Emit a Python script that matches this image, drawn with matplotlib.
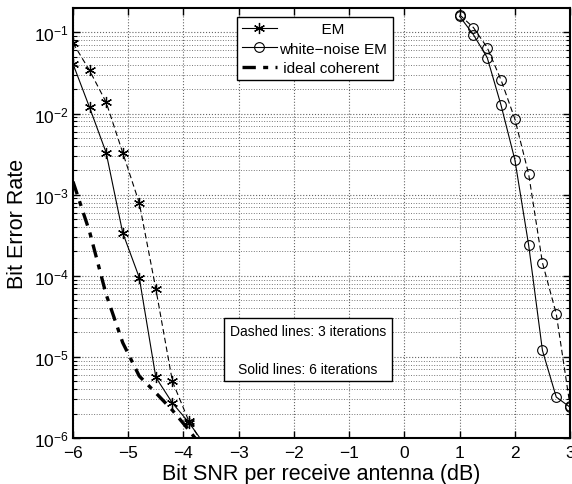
import matplotlib
matplotlib.use("Agg")
import matplotlib.pyplot as plt

plt.rcParams['font.family'] = ['Liberation Sans', 'DejaVu Sans']
plt.rcParams['mathtext.fontset'] = 'custom'
plt.rcParams['mathtext.rm'] = 'Liberation Sans'
plt.rcParams['mathtext.it'] = 'Liberation Sans:italic'

# --- datos ---
snr_izq = [-6.0, -5.7, -5.4, -5.1, -4.8, -4.5, -4.2, -3.9, -3.6]
em_6it = [4.1e-2, 1.19e-2, 3.3e-3, 3.4e-4, 9.5e-5, 5.6e-6, 2.7e-6, 1.55e-6, 8e-7]
em_3it = [7.4e-2, 3.4e-2, 1.38e-2, 3.3e-3, 7.9e-4, 6.9e-5, 5.0e-6, 1.6e-6, 7.5e-7]
ideal = [1.45e-3, 3.5e-4, 5.9e-5, 1.5e-5, 5.8e-6, 3.6e-6, 2.2e-6, 1.25e-6, 6.8e-7]

snr_der = [1.0, 1.25, 1.5, 1.75, 2.0, 2.25, 2.5, 2.75, 3.0]
wn_6it = [0.158, 9.4e-2, 4.9e-2, 1.27e-2, 2.7e-3, 2.4e-4, 1.2e-5, 3.2e-6, 2.4e-6]
wn_3it = [0.165, 0.115, 6.5e-2, 2.6e-2, 8.6e-3, 1.8e-3, 1.45e-4, 3.4e-5, 2.5e-6]

etiquetas = ['EM', 'white\u2212noise EM', 'ideal coherent']
xticks = [-6, -5, -4, -3, -2, -1, 0, 1, 2, 3]
nota = 'Dashed lines: 3 iterations\n\nSolid lines: 6 iterations'

fig = plt.figure(figsize=(5.72, 4.85), dpi=100)
ax = fig.add_axes([0.1276, 0.0948, 0.869, 0.8866])

ast = (6, 2, 0)
l_em, = ax.semilogy(snr_izq, em_6it, 'k-', marker=ast, ms=8, lw=0.8, mew=0.9)
ax.semilogy(snr_izq, em_3it, 'k--', marker=ast, ms=8, lw=0.8, mew=0.9, dashes=(5, 3))
l_wn, = ax.semilogy(snr_der, wn_6it, 'k-', marker='o', ms=7, mfc='none', lw=0.8, mew=0.8)
ax.semilogy(snr_der, wn_3it, 'k--', marker='o', ms=7, mfc='none', lw=0.8, mew=0.8, dashes=(5, 3))
l_id, = ax.semilogy(snr_izq, ideal, 'k-.', lw=2.4, dashes=(4, 2.2, 1.5, 2.2))

ax.set_xlim(-6, 3)
ax.set_ylim(1e-6, 0.2)
ax.set_xticks(xticks)

ax.grid(True, which='major', axis='both', ls=':', color='#666666', lw=0.8)
ax.grid(True, which='minor', axis='y', ls=':', color='#777777', lw=0.7)
ax.tick_params(which='both', direction='in', top=True, right=True, labelsize=12.5)
ax.tick_params(which='major', length=5, width=1)
ax.tick_params(which='minor', length=3, width=0.8)
ax.tick_params(axis='x', pad=5)
ax.tick_params(axis='y', pad=3)
for s in ax.spines.values():
    s.set_linewidth(1.5)

ax.set_xlabel('Bit SNR per receive antenna (dB)', fontsize=15.5, labelpad=2)
ax.set_ylabel('Bit Error Rate', fontsize=15.5, labelpad=4)

# centrar las etiquetas de la leyenda rellenando con espacios
fs_leg = 11
fig.canvas.draw()
r = fig.canvas.get_renderer()
def ancho(s):
    t = fig.text(0, 0, s, fontsize=fs_leg)
    w = t.get_window_extent(r).width
    t.remove()
    return w
esp = ancho('a a') - ancho('aa')
wmax = max(ancho(e) for e in etiquetas)
etq = [' ' * int(round((wmax - ancho(e)) / 2 / esp)) + e for e in etiquetas]

leg = ax.legend([l_em, l_wn, l_id], etq, loc='upper left', bbox_to_anchor=(0.329, 0.979),
                fontsize=fs_leg, handlelength=2.3, labelspacing=0.35, handletextpad=0.15,
                borderpad=0.35, borderaxespad=0, fancybox=False, framealpha=1, edgecolor='k')
leg.get_frame().set_linewidth(1.0)

ax.text(0.473, 0.205, nota, transform=ax.transAxes, fontsize=10, ha='center', va='center',
        multialignment='center', linespacing=1.45,
        bbox=dict(boxstyle='square,pad=0.4', fc='white', ec='k', lw=1.0))

plt.savefig('out.png', dpi=100)
